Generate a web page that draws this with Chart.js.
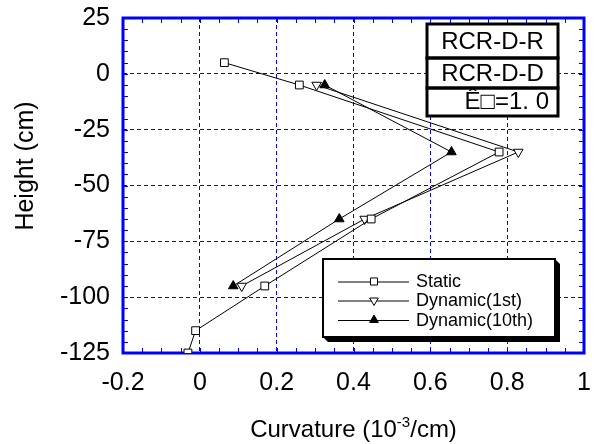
<!DOCTYPE html>
<html>
<head>
<meta charset="utf-8">
<script src="https://cdn.jsdelivr.net/npm/chart.js@4"></script>
<style>
  body { margin: 0; background: #fff; }
  #wrap { width: 597px; height: 444px; }
</style>
</head>
<body>
<div id="wrap"><canvas id="curvChart" width="597" height="444"></canvas></div>
<script>
// ---- data ----
const staticX = [0.064, 0.259, 0.779, 0.446, 0.169, -0.011, -0.031];
const staticY = [5, -5, -35, -65, -95, -115, -125];
const dyn1X = [0.304, 0.829, 0.429, 0.109];
const dyn1Y = [-5, -35, -65, -95];
const dyn10X = [0.325, 0.655, 0.363, 0.087];
const dyn10Y = [-5, -35, -65, -95];

const seriesNames = ["Static", "Dynamic(1st)", "Dynamic(10th)"];
const xTicks = [-0.2, 0, 0.2, 0.4, 0.6, 0.8, 1];
const yTicks = [-125, -100, -75, -50, -25, 0, 25];
const xMinorStep = 0.05;
const yMinorStep = 5;
const boxLabels = ["RCR-D-R", "RCR-D-D", "Ê□=1. 0"];

const FONT = "'Liberation Sans', Arial, sans-serif";
const BLUE = "#0000ff";

const toPoints = (xs, ys) => xs.map((x, i) => ({ x: x, y: ys[i] }));

// рамка, мелкие засечки, подписи осей, таблички и легенда
const framePlugin = {
    id: "frame",
    beforeDatasetsDraw(chart) {
        const ctx = chart.ctx;
        const a = chart.chartArea;
        const xs = chart.scales.x, ys = chart.scales.y;
        ctx.save();
        ctx.strokeStyle = BLUE;
        ctx.lineWidth = 1;
        ctx.beginPath();
        const nx = Math.round((xs.max - xs.min) / xMinorStep);
        for (let i = 0; i <= nx; i++) {
            const px = Math.round(xs.getPixelForValue(xs.min + i * xMinorStep)) + 0.5;
            ctx.moveTo(px, a.top); ctx.lineTo(px, a.top + 5);
            ctx.moveTo(px, a.bottom); ctx.lineTo(px, a.bottom - 5);
        }
        const ny = Math.round((ys.max - ys.min) / yMinorStep);
        for (let i = 0; i <= ny; i++) {
            const py = Math.round(ys.getPixelForValue(ys.min + i * yMinorStep)) + 0.5;
            ctx.moveTo(a.left, py); ctx.lineTo(a.left + 5, py);
            ctx.moveTo(a.right, py); ctx.lineTo(a.right - 5, py);
        }
        ctx.stroke();
        ctx.lineWidth = 3;
        ctx.strokeRect(a.left, a.top, a.right - a.left, a.bottom - a.top);
        ctx.restore();
    },
    afterDraw(chart) {
        const ctx = chart.ctx;
        const a = chart.chartArea;
        ctx.save();
        ctx.fillStyle = "#000";

        // x title with superscript
        const main = "Curvature (10", sup = "-3", tail = "/cm)";
        ctx.font = "24px " + FONT;
        const w1 = ctx.measureText(main).width, w3 = ctx.measureText(tail).width;
        ctx.font = "15px " + FONT;
        const w2 = ctx.measureText(sup).width;
        let tx = (a.left + a.right) / 2 - (w1 + w2 + w3) / 2;
        const base = 437;
        ctx.textBaseline = "alphabetic";
        ctx.textAlign = "left";
        ctx.font = "24px " + FONT;
        ctx.fillText(main, tx, base);
        ctx.font = "15px " + FONT;
        ctx.fillText(sup, tx + w1, base - 10);
        ctx.font = "24px " + FONT;
        ctx.fillText(tail, tx + w1 + w2, base);

        // y title
        ctx.save();
        ctx.translate(33, 166);
        ctx.rotate(-Math.PI / 2);
        ctx.textAlign = "center";
        ctx.font = "25px " + FONT;
        ctx.fillText("Height (cm)", 0, 0);
        ctx.restore();

        // табличка справа вверху
        const bx = 427, bw = 131;
        const rows = [[24, 58], [58, 88], [88, 116]];
        ctx.lineWidth = 3;
        ctx.strokeStyle = "#000";
        ctx.fillStyle = "#fff";
        ctx.fillRect(bx, rows[0][0], bw, rows[2][1] - rows[0][0]);
        rows.forEach(r => ctx.strokeRect(bx, r[0], bw, r[1] - r[0]));
        ctx.fillStyle = "#000";
        ctx.font = "24px " + FONT;
        ctx.textBaseline = "middle";
        ctx.textAlign = "center";
        ctx.fillText(boxLabels[0], bx + bw / 2, 42);
        ctx.fillText(boxLabels[1], bx + bw / 2, 74);
        ctx.textAlign = "right";
        ctx.fillText(boxLabels[2], bx + bw - 9, 102);

        // легенда с тенью
        const L = 323, T = 259, R = 555, B = 337, sh = 5;
        ctx.fillStyle = "#000";
        ctx.beginPath();
        ctx.moveTo(R, T); ctx.lineTo(R + sh, T + sh); ctx.lineTo(R + sh, B + sh);
        ctx.lineTo(L + sh, B + sh); ctx.lineTo(L, B); ctx.lineTo(R, B); ctx.closePath();
        ctx.fill();
        ctx.fillStyle = "#fff";
        ctx.fillRect(L, T, R - L, B - T);
        ctx.lineWidth = 2;
        ctx.strokeRect(L, T, R - L, B - T);

        const rowY = [281.5, 300.5, 320];
        ctx.font = "18px " + FONT;
        ctx.textAlign = "left";
        ctx.textBaseline = "middle";
        chart.data.datasets.forEach((ds, i) => {
            const y = rowY[i];
            ctx.strokeStyle = "#000";
            ctx.lineWidth = 1;
            ctx.beginPath();
            ctx.moveTo(338, y + 0.5); ctx.lineTo(409, y + 0.5);
            ctx.stroke();
            ctx.fillStyle = ds.pointBackgroundColor;
            ctx.strokeStyle = ds.pointBorderColor;
            Chart.helpers.drawPoint(ctx, {
                pointStyle: ds.pointStyle, radius: ds.pointRadius - 0.5,
                rotation: ds.pointRotation, borderWidth: 1
            }, 374, y);
            ctx.fillStyle = "#000";
            ctx.fillText(ds.label, 416, y + 1);
        });
        ctx.restore();
    }
};

const common = {
    showLine: true,
    borderColor: "#000",
    borderWidth: 1,
    pointBorderColor: "#000",
    pointBorderWidth: 1
};

new Chart(document.getElementById("curvChart"), {
    type: "scatter",
    data: {
        datasets: [
            Object.assign({}, common, {
                label: seriesNames[0],
                data: toPoints(staticX, staticY),
                pointStyle: "rect", pointRadius: 5.5, pointRotation: 0,
                pointBackgroundColor: "#fff"
            }),
            Object.assign({}, common, {
                label: seriesNames[1],
                data: toPoints(dyn1X, dyn1Y),
                pointStyle: "triangle", pointRadius: 5.5, pointRotation: 180,
                pointBackgroundColor: "#fff"
            }),
            Object.assign({}, common, {
                label: seriesNames[2],
                data: toPoints(dyn10X, dyn10Y),
                pointStyle: "triangle", pointRadius: 5.5, pointRotation: 0,
                pointBackgroundColor: "#000"
            })
        ]
    },
    options: {
        responsive: false,
        animation: false,
        devicePixelRatio: 1,
        layout: { padding: { top: 18, right: 13, left: 0, bottom: 0 } },
        plugins: { legend: { display: false }, tooltip: { enabled: false } },
        scales: {
            x: {
                type: "linear",
                min: xTicks[0],
                max: xTicks[xTicks.length - 1],
                afterBuildTicks: s => { s.ticks = xTicks.map(v => ({ value: v })); },
                afterFit: s => { s.height = 91; s.paddingLeft = 0; s.paddingRight = 0; },
                ticks: {
                    font: { family: FONT, size: 25 },
                    color: "#000",
                    padding: 15,
                    autoSkip: false,
                    maxRotation: 0,
                    callback: v => String(v)
                },
                grid: { color: BLUE, lineWidth: 1, drawTicks: false },
                border: { display: false, dash: [4, 3] }
            },
            y: {
                type: "linear",
                min: yTicks[0],
                max: yTicks[yTicks.length - 1],
                afterBuildTicks: s => { s.ticks = yTicks.map(v => ({ value: v })); },
                afterFit: s => { s.width = 123; s.paddingTop = 0; s.paddingBottom = 0; },
                ticks: {
                    font: { family: FONT, size: 25 },
                    color: "#000",
                    padding: 13,
                    autoSkip: false,
                    callback: v => String(v)
                },
                grid: { color: BLUE, lineWidth: 1, drawTicks: false },
                border: { display: false, dash: [4, 3] }
            }
        }
    },
    plugins: [framePlugin]
});
</script>
</body>
</html>
